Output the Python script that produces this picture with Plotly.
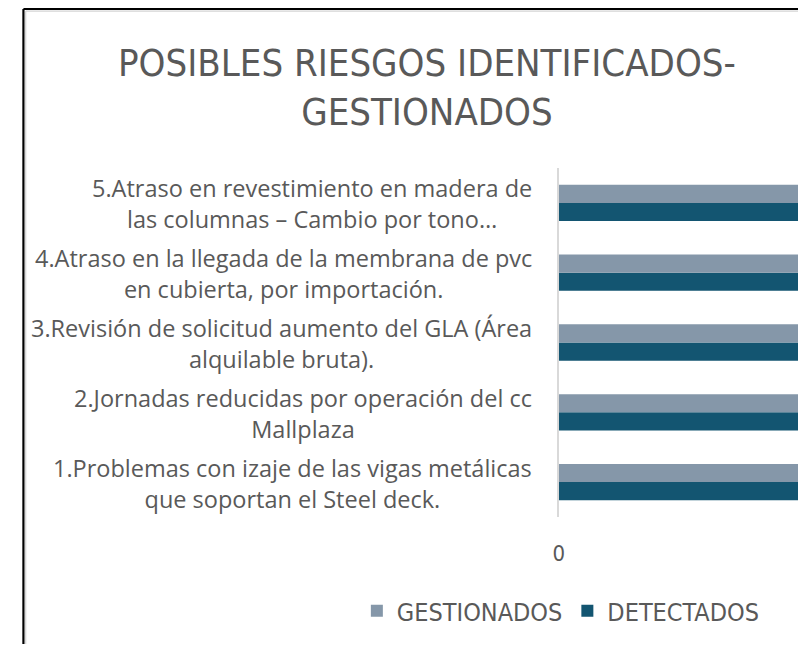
import plotly.graph_objects as go

# ---- data ----
categories = [
    "1.Problemas con izaje de las vigas metálicas<br>que soportan el Steel deck.",
    "2.Jornadas reducidas por operación del cc<br>Mallplaza",
    "3.Revisión de solicitud aumento del GLA (Área<br>alquilable bruta).",
    "4.Atraso en la llegada de la membrana de pvc<br>en cubierta, por importación.",
    "5.Atraso en revestimiento en madera de<br>las columnas – Cambio por tono…",
]
gestionados = [1, 1, 1, 1, 1]
detectados = [1, 1, 1, 1, 1]
x_tick_values = [0, 1]
x_tick_labels = ["0", "1"]
series_names = ["GESTIONADOS", "DETECTADOS"]
title_text = "POSIBLES RIESGOS IDENTIFICADOS-<br>GESTIONADOS"

# ---- style ----
# the page body has an 8px margin, so the figure is sized to fit the window
W, H = 798, 636
GRAY_BAR = "#8597A9"
NAVY_BAR = "#135571"
TEXT = "#595959"
NARROW = "Liberation Sans Narrow, DejaVu Sans Condensed, Roboto, sans-serif"
LABEL_FONT = "Open Sans, Noto Sans, sans-serif"

fig = go.Figure()
fig.add_bar(y=categories, x=detectados, orientation="h", name=series_names[1],
            marker=dict(color=NAVY_BAR, line=dict(width=0)))
fig.add_bar(y=categories, x=gestionados, orientation="h", name=series_names[0],
            marker=dict(color=GRAY_BAR, line=dict(width=0)))

plot_left = 549 / W
plot_bottom = 1 - 509 / H
plot_top = 1 - 160 / H

annotations = []
for c in categories:
    annotations.append(dict(
        x=524 / W, xref="paper", xanchor="right",
        y=c, yref="y", yanchor="middle", yshift=-1,
        text=c, align="center", showarrow=False,
        font=dict(family=LABEL_FONT, size=23.5, color=TEXT),
    ))

annotations.append(dict(
    x=416 / W, xref="paper", xanchor="center",
    y=1 - 30.5 / H, yref="paper", yanchor="top",
    text=title_text, align="center", showarrow=False,
    font=dict(family=NARROW, size=38, color=TEXT),
))

shapes = [
    dict(type="line", xref="paper", yref="paper", x0=9.5 / W, x1=9.5 / W, y0=0, y1=1 - 1 / H,
         line=dict(color="black", width=2.2)),
    dict(type="line", xref="paper", yref="paper", x0=9.5 / W, x1=1, y0=1 - 1 / H, y1=1 - 1 / H,
         line=dict(color="black", width=2.2)),
    dict(type="line", xref="paper", yref="paper", x0=11.8 / W, x1=11.8 / W, y0=0, y1=1 - 3 / H,
         line=dict(color="#D4D4D4", width=1.2)),
    dict(type="line", xref="paper", yref="paper", x0=11.8 / W, x1=1, y0=1 - 3.2 / H, y1=1 - 3.2 / H,
         line=dict(color="#D4D4D4", width=1.2)),
]

fig.update_layout(
    width=W, height=H,
    margin=dict(l=0, r=0, t=0, b=0),
    paper_bgcolor="white", plot_bgcolor="white",
    barmode="group", bargap=0.48, bargroupgap=0,
    showlegend=True,
    legend=dict(orientation="h", traceorder="reversed",
                x=551 / W, xanchor="center", y=1 - 603 / H, yanchor="middle",
                font=dict(family=NARROW, size=25, color=TEXT),
                itemwidth=30),
    xaxis=dict(domain=[plot_left, 1], range=[0, 1], tickvals=x_tick_values,
               ticktext=x_tick_labels, showgrid=False, zeroline=False,
               showline=False, ticks="outside", ticklen=17, tickcolor="rgba(0,0,0,0)",
               tickfont=dict(family=NARROW, size=22, color=TEXT), fixedrange=True),
    yaxis=dict(domain=[plot_bottom, plot_top], type="category",
               showticklabels=False, showgrid=False, zeroline=False,
               showline=True, linecolor="#D9D9D9", linewidth=2, fixedrange=True),
    annotations=annotations,
    shapes=shapes,
)

fig.write_html("out.html")
